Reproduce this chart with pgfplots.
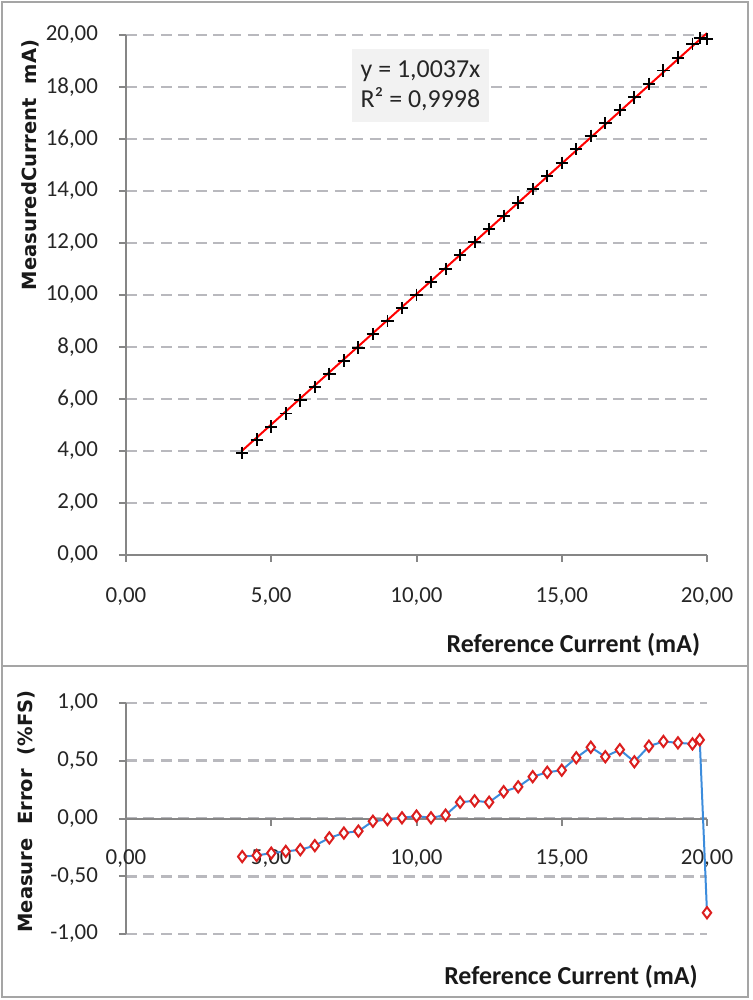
\documentclass[border=0pt]{standalone}
\usepackage{pgfplots}
\pgfplotsset{compat=1.18}
\usepackage{pgfplotstable}
\usepackage{fontspec}
\setmainfont{Carlito}
\newfontfamily\ylabfont{DejaVu Sans}
\definecolor{axgray}{RGB}{134,134,134}
\definecolor{gridgray}{RGB}{185,185,190}
\definecolor{framegray}{RGB}{165,165,165}
\definecolor{boxgray}{RGB}{242,242,242}
\definecolor{errblue}{RGB}{60,140,220}
\definecolor{mkred}{RGB}{220,30,30}

\pgfplotstableread{
x y
4 3.934
4.5 4.436
5 4.940
5.5 5.443
6 5.946
6.5 6.453
7 6.966
7.5 7.475
8 7.978
8.5 8.495
9 8.998
9.5 9.501
10 10.004
10.5 10.501
11 11.006
11.5 11.528
12 12.031
12.5 12.528
13 13.046
13.5 13.555
14 14.072
14.5 14.580
15 15.084
15.5 15.605
16 16.123
16.5 16.607
17 17.119
17.5 17.598
18 18.125
18.5 18.633
19 19.131
19.5 19.660
19.75 19.890
20 19.840
}\meas

\pgfplotstableread{
x e
4 -0.330
4.5 -0.320
5 -0.300
5.5 -0.285
6 -0.270
6.5 -0.235
7 -0.168
7.5 -0.126
8 -0.109
8.5 -0.024
9 -0.009
9.5 0.006
10 0.021
10.5 0.006
11 0.029
11.5 0.141
12 0.153
12.5 0.141
13 0.232
13.5 0.274
14 0.362
14.5 0.400
15 0.418
15.5 0.526
16 0.617
16.5 0.535
17 0.596
17.5 0.491
18 0.626
18.5 0.667
19 0.655
19.5 0.646
19.75 0.681
20 -0.816
}\err

\pgfplotsset{
  excel/.style={
    scale only axis,
    axis line style={axgray, line width=1bp},
    axis y line*=left,
    tick style={axgray, line width=1bp},
    tick align=outside,
    major tick length=3.5bp,
    ymajorgrids,
    grid style={gridgray, line width=1.3bp, dash pattern=on 5.5bp off 3.2bp},
    tick label style={font=\fontsize{11.5}{13}\selectfont, text=black!85},
    xmin=0, xmax=20,
    xtick={0,5,10,15,20},
    xticklabels={{0,00},{5,00},{10,00},{15,00},{20,00}},
    hide obscured x ticks=false,
    hide obscured y ticks=false,
    clip=false,
  }
}

\begin{document}
\begin{tikzpicture}
\path[use as bounding box] (0,0) rectangle (376.5bp,500bp);
% panel frames
\draw[framegray, line width=1bp] (1bp,1.5bp) rectangle (374bp,499bp);
\draw[framegray, line width=1bp] (1bp,167bp) -- (374bp,167bp);

% top axis
\begin{axis}[excel,
  at={(63bp,222.5bp)}, anchor=south west,
  width=290.5bp, height=260bp,
  axis x line*=bottom,
  ymin=0, ymax=20,
  ytick={0,2,4,6,8,10,12,14,16,18,20},
  yticklabels={{0,00},{2,00},{4,00},{6,00},{8,00},{10,00},{12,00},{14,00},{16,00},{18,00},{20,00}},
  xticklabel style={yshift=-9.5bp},
  yticklabel style={xshift=-7bp},
  xlabel={Reference Current (mA)},
  xlabel style={font=\bfseries\fontsize{13}{15}\selectfont, text=black!90, at={(axis description cs:0.77,0)}, anchor=center, yshift=-45bp},
  ylabel={MeasuredCurrent\ \ mA)},
  ylabel style={font=\ylabfont\bfseries\fontsize{9.8}{11}\selectfont, text=black!90, at={(axis description cs:-0.165,0.75)}, anchor=center},
]
\addplot[red, line width=1bp] coordinates {(4,4.0148) (20,20.074)};
\addplot[only marks, mark=+, mark size=3.1bp, black, mark options={line width=0.95bp}] table[x=x,y=y] {\meas};
\end{axis}

\node[fill=boxgray, minimum width=68.5bp, minimum height=36.5bp, align=left, font=\fontsize{13}{15}\selectfont, text=black!85, inner sep=0pt] at (210.25bp,457.25bp) {y = 1,0037x\\R² = 0,9998};

% bottom axis
\begin{axis}[excel,
  at={(63bp,33bp)}, anchor=south west,
  width=290.5bp, height=115.5bp,
  axis x line*=middle,
  ymin=-1, ymax=1,
  ytick={-1,-0.5,0,0.5,1},
  yticklabels={{-1,00},{-0,50},{0,00},{0,50},{1,00}},
  xticklabel style={yshift=-8.5bp},
  yticklabel style={xshift=-7bp},
  xlabel={Reference Current (mA)},
  xlabel style={font=\bfseries\fontsize{13}{15}\selectfont, text=black!90, at={(axis description cs:0.766,0)}, anchor=center, yshift=-21.5bp},
  ylabel={Measure\ \ Error\ \ (\%FS)},
  ylabel style={font=\ylabfont\bfseries\fontsize{9.8}{11}\selectfont, text=black!90, at={(axis description cs:-0.172,0.53)}, anchor=center},
]
\addplot[errblue, line width=1bp, mark=diamond*, mark size=2.8bp,
  mark options={draw=mkred, fill=white, line width=1bp}] table[x=x,y=e] {\err};
\end{axis}
\end{tikzpicture}
\end{document}
